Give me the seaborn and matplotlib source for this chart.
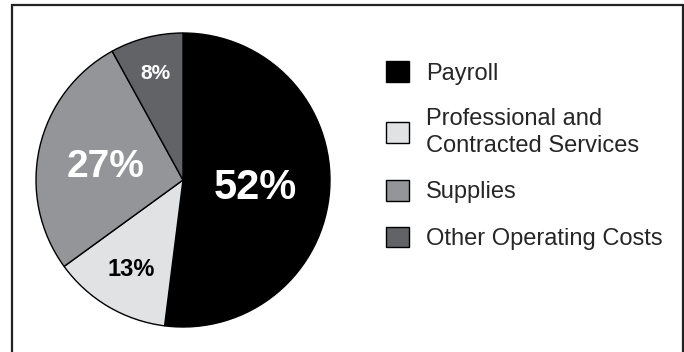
import matplotlib
matplotlib.use("Agg")
import matplotlib.pyplot as plt
from matplotlib.patches import Rectangle
import numpy as np
import seaborn as sns

# Expense shares (percent of total)
categories = ["Payroll", "Professional and\nContracted Services", "Supplies", "Other Operating Costs"]
shares = [52, 13, 27, 8]
wedge_colors = ["#000000", "#e1e2e3", "#939598", "#626366"]
label_colors = ["white", "black", "white", "white"]
label_sizes = [30, 17, 28, 15]
label_dist = [0.49, 0.69, 0.54, 0.76]

sns.set_theme(style="white")
plt.rcParams["font.family"] = ["Liberation Sans", "DejaVu Sans"]

W, H, DPI = 684, 352, 100
fig = plt.figure(figsize=(W / DPI, H / DPI), dpi=DPI)

# pie axes: centre (183, 180) px, radius 147 px
cx, cy, r = 183, 180, 147
ax = fig.add_axes([(cx - r) / W, (H - cy - r) / H, 2 * r / W, 2 * r / H])
wedges, _ = ax.pie(
    shares,
    colors=wedge_colors,
    startangle=90,
    counterclock=False,
    radius=1.0,
    wedgeprops=dict(edgecolor="black", linewidth=1.0),
)
ax.set_xlim(-1, 1)
ax.set_ylim(-1, 1)
ax.set_aspect("equal")
ax.axis("off")

for w, val, col, fs, d in zip(wedges, shares, label_colors, label_sizes, label_dist):
    mid = np.deg2rad((w.theta1 + w.theta2) / 2)
    cap = 0.716 * fs
    ax.annotate(
        f"{val}%",
        xy=(d * np.cos(mid), d * np.sin(mid)),
        xytext=(0, -cap / 2),
        textcoords="offset points",
        ha="center",
        va="baseline",
        fontsize=fs,
        fontweight="bold",
        color=col,
    )

leg_fs = 17
leg = fig.legend(
    wedges,
    categories,
    loc="upper left",
    bbox_to_anchor=(386 / W, 1 - 61 / H),
    frameon=False,
    borderpad=0,
    borderaxespad=0,
    fontsize=leg_fs,
    handlelength=0.98,
    handleheight=0.98,
    handletextpad=0.72,
    labelspacing=0.98,
)
for t in leg.get_texts():
    t.set_linespacing(1.3)

# outer frame, open below the image edge
fig.patches.append(
    Rectangle(
        (11.5 / W, -0.1),
        (682.5 - 11.5) / W,
        1.1 - 5.5 / H,
        transform=fig.transFigure,
        fill=False,
        edgecolor="#222222",
        linewidth=1.6,
    )
)

fig.savefig("out.png", dpi=DPI)
